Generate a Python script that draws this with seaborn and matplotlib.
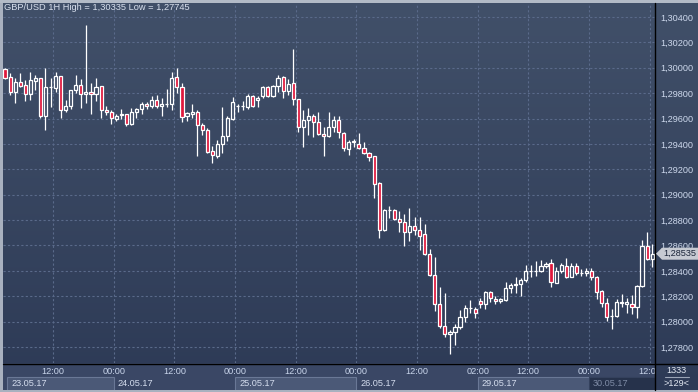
import numpy as np
import pandas as pd
import matplotlib
matplotlib.use('Agg')
import matplotlib.pyplot as plt
import matplotlib.transforms as mtransforms
from matplotlib.colors import LinearSegmentedColormap
from matplotlib.patches import Rectangle, Polygon
import seaborn as sns

# GBP/USD hourly candles
opens = [1.29990, 1.29927, 1.29809, 1.29888, 1.29864, 1.29793, 1.29896, 1.29919, 1.29620, 1.29848,
         1.29841, 1.29935, 1.29667, 1.29699, 1.29825, 1.29864, 1.29793, 1.29809, 1.29793, 1.29856,
         1.29667, 1.29651, 1.29596, 1.29628, 1.29636, 1.29557, 1.29651, 1.29675, 1.29714, 1.29699,
         1.29746, 1.29699, 1.29714, 1.29714, 1.29927, 1.29848, 1.29620, 1.29636, 1.29651, 1.29549,
         1.29510, 1.29344, 1.29305, 1.29399, 1.29462, 1.29596, 1.29699, 1.29701, 1.29691, 1.29778,
         1.29746, 1.29778, 1.29848, 1.29778, 1.29856, 1.29927, 1.29817, 1.29880, 1.29754, 1.29533,
         1.29588, 1.29620, 1.29573, 1.29478, 1.29462, 1.29533, 1.29588, 1.29486, 1.29360, 1.29415,
         1.29399, 1.29368, 1.29328, 1.29305, 1.29092, 1.28722, 1.28879, 1.28879, 1.28808, 1.28785,
         1.28706, 1.28753, 1.28722, 1.28690, 1.28532, 1.28367, 1.28138, 1.27965, 1.27902, 1.27918,
         1.27957, 1.28036, 1.28107, 1.28099, 1.28162, 1.28138, 1.28233, 1.28178, 1.28162, 1.28170,
         1.28265, 1.28288, 1.28296, 1.28328, 1.28399, 1.28401, 1.28399, 1.28438, 1.28462, 1.28304,
         1.28399, 1.28438, 1.28351, 1.28438, 1.28383, 1.28383, 1.28399, 1.28351, 1.28241, 1.28146,
         1.28044, 1.28044, 1.28146, 1.28138, 1.28138, 1.28115, 1.28280, 1.28596, 1.28493]
highs = [1.29998, 1.29959, 1.29919, 1.29959, 1.29904, 1.29967, 1.29943, 1.29919, 1.29998, 1.29919,
         1.29967, 1.29935, 1.29746, 1.29825, 1.29943, 1.29911, 1.30335, 1.29880, 1.29919, 1.29856,
         1.29699, 1.29667, 1.29636, 1.29675, 1.29636, 1.29683, 1.29683, 1.29730, 1.29730, 1.29778,
         1.29785, 1.29762, 1.29833, 1.29967, 1.29998, 1.29880, 1.29651, 1.29714, 1.29667, 1.29565,
         1.29525, 1.29384, 1.29431, 1.29691, 1.29620, 1.29770, 1.29714, 1.29738, 1.29793, 1.29785,
         1.29778, 1.29856, 1.29856, 1.29864, 1.29943, 1.29935, 1.29911, 1.30148, 1.29754, 1.29667,
         1.29683, 1.29636, 1.29651, 1.29533, 1.29651, 1.29620, 1.29620, 1.29494, 1.29431, 1.29439,
         1.29486, 1.29415, 1.29336, 1.29305, 1.29100, 1.28887, 1.28911, 1.28887, 1.28871, 1.28848,
         1.28895, 1.28824, 1.28824, 1.28769, 1.28572, 1.28509, 1.28272, 1.28225, 1.27934, 1.27981,
         1.28091, 1.28131, 1.28170, 1.28115, 1.28186, 1.28241, 1.28241, 1.28202, 1.28186, 1.28312,
         1.28304, 1.28351, 1.28343, 1.28446, 1.28446, 1.28477, 1.28485, 1.28469, 1.28493, 1.28430,
         1.28462, 1.28501, 1.28462, 1.28462, 1.28414, 1.28422, 1.28422, 1.28359, 1.28249, 1.28186,
         1.28099, 1.28178, 1.28217, 1.28186, 1.28209, 1.28288, 1.28643, 1.28706, 1.28611]
lows = [1.29911, 1.29785, 1.29722, 1.29848, 1.29738, 1.29746, 1.29825, 1.29604, 1.29510, 1.29691,
        1.29809, 1.29604, 1.29651, 1.29675, 1.29801, 1.29683, 1.29722, 1.29636, 1.29738, 1.29604,
        1.29628, 1.29557, 1.29581, 1.29596, 1.29541, 1.29549, 1.29604, 1.29636, 1.29675, 1.29683,
        1.29683, 1.29620, 1.29691, 1.29667, 1.29801, 1.29573, 1.29581, 1.29604, 1.29305, 1.29470,
        1.29328, 1.29250, 1.29289, 1.29328, 1.29423, 1.29588, 1.29651, 1.29667, 1.29675, 1.29691,
        1.29691, 1.29762, 1.29770, 1.29770, 1.29809, 1.29762, 1.29785, 1.29707, 1.29494, 1.29376,
        1.29470, 1.29454, 1.29470, 1.29305, 1.29454, 1.29494, 1.29447, 1.29344, 1.29313, 1.29376,
        1.29360, 1.29320, 1.29265, 1.28974, 1.28659, 1.28714, 1.28816, 1.28800, 1.28706, 1.28596,
        1.28635, 1.28682, 1.28564, 1.28525, 1.28359, 1.28083, 1.27949, 1.27878, 1.27745, 1.27815,
        1.27941, 1.27997, 1.28068, 1.28028, 1.28107, 1.28099, 1.28154, 1.28138, 1.28146, 1.28162,
        1.28225, 1.28225, 1.28202, 1.28312, 1.28351, 1.28359, 1.28391, 1.28422, 1.28272, 1.28304,
        1.28383, 1.28343, 1.28351, 1.28367, 1.28359, 1.28359, 1.28328, 1.28178, 1.28115, 1.28005,
        1.27941, 1.28036, 1.28115, 1.28068, 1.28060, 1.28028, 1.28272, 1.28485, 1.28430]
closes = [1.29919, 1.29809, 1.29888, 1.29856, 1.29793, 1.29904, 1.29919, 1.29620, 1.29848, 1.29850,
          1.29935, 1.29667, 1.29699, 1.29825, 1.29864, 1.29793, 1.29809, 1.29793, 1.29848, 1.29667,
          1.29651, 1.29604, 1.29620, 1.29636, 1.29557, 1.29651, 1.29675, 1.29714, 1.29699, 1.29746,
          1.29699, 1.29714, 1.29716, 1.29919, 1.29848, 1.29612, 1.29644, 1.29651, 1.29549, 1.29510,
          1.29336, 1.29313, 1.29399, 1.29462, 1.29604, 1.29730, 1.29701, 1.29699, 1.29778, 1.29699,
          1.29762, 1.29848, 1.29778, 1.29856, 1.29919, 1.29817, 1.29872, 1.29754, 1.29533, 1.29588,
          1.29620, 1.29573, 1.29478, 1.29462, 1.29533, 1.29588, 1.29494, 1.29368, 1.29415, 1.29423,
          1.29368, 1.29328, 1.29297, 1.29084, 1.28722, 1.28879, 1.28881, 1.28808, 1.28785, 1.28706,
          1.28753, 1.28722, 1.28674, 1.28532, 1.28367, 1.28138, 1.27965, 1.27902, 1.27918, 1.27957,
          1.28036, 1.28107, 1.28109, 1.28068, 1.28138, 1.28233, 1.28186, 1.28162, 1.28178, 1.28265,
          1.28288, 1.28296, 1.28328, 1.28399, 1.28401, 1.28399, 1.28438, 1.28454, 1.28312, 1.28399,
          1.28446, 1.28351, 1.28438, 1.28383, 1.28385, 1.28399, 1.28351, 1.28233, 1.28146, 1.28036,
          1.28046, 1.28154, 1.28154, 1.28154, 1.28115, 1.28280, 1.28596, 1.28493, 1.28535]

# trading hours shown (weekend gap between Friday and Sunday night)
times = pd.date_range('2017-05-23 02:00', periods=91, freq='h').append(
    pd.date_range('2017-05-28 23:00', periods=38, freq='h'))

tick_times = ['2017-05-23 12:00', '2017-05-24 00:00', '2017-05-24 12:00', '2017-05-25 00:00',
              '2017-05-25 12:00', '2017-05-26 00:00', '2017-05-26 12:00', '2017-05-29 02:00',
              '2017-05-29 12:00', '2017-05-30 00:00', '2017-05-30 12:00']
date_starts = ['2017-05-23 02:00', '2017-05-24 00:00', '2017-05-25 00:00',
               '2017-05-26 00:00', '2017-05-29 02:00', '2017-05-30 00:00']
price_ticks = [1.278, 1.280, 1.282, 1.284, 1.286, 1.288, 1.290, 1.292, 1.294,
               1.296, 1.298, 1.300, 1.302, 1.304]

sns.set_style('dark')
plt.rcParams['font.family'] = ['Liberation Sans', 'DejaVu Sans']

W, H = 698, 392
fig = plt.figure(figsize=(W / 100, H / 100), dpi=100)

def fx(px):
    return px / W

def fy(py):
    return 1 - py / H

# background gradient
bg = fig.add_axes([0, 0, 1, 1])
cmap = LinearSegmentedColormap.from_list('bg', ['#2d3a56', '#415069'])
bg.imshow(np.linspace(0, 1, 256).reshape(-1, 1)[::-1], cmap=cmap, aspect='auto',
          extent=[0, 1, 0, 1])
bg.axis('off')

# main price panel
ax = fig.add_axes([fx(3), fy(363), fx(652), 360 / H])
ax.set_facecolor('none')
x = np.arange(len(opens))
o, h, l, c = map(np.array, (opens, highs, lows, closes))
up = c >= o
top = np.maximum(o, c)
bot = np.minimum(o, c)
ax.vlines(x, top, h, color='white', lw=0.9, zorder=3)
ax.vlines(x, l, bot, color='white', lw=0.9, zorder=3)
ax.bar(x[up], (c - o)[up], bottom=o[up], width=0.62, facecolor='none',
       edgecolor='white', lw=0.9, zorder=4)
ax.bar(x[~up], (o - c)[~up], bottom=c[~up], width=0.62, facecolor='#e0183c',
       edgecolor='white', lw=0.9, zorder=4)

ax.set_xlim(-0.4, 128.56)
ax.set_ylim(1.27674, 1.30510)

tick_pos = [times.get_loc(pd.Timestamp(t)) - 0.5 for t in tick_times]
tick_lbl = [pd.Timestamp(t).strftime('%H:%M') for t in tick_times]
grid_kw = dict(color='#5a6a8a', lw=0.8, ls=(0, (2, 2)), zorder=1)
for p in tick_pos:
    ax.axvline(p, **grid_kw)
for v in price_ticks:
    ax.axhline(v, **grid_kw)

ax.set_xticks([])
ax.yaxis.tick_right()
ax.set_yticks(price_ticks)
ax.set_yticklabels([f'{v:.5f}'.replace('.', ',') for v in price_ticks])
ax.tick_params(axis='y', length=0, pad=3.5, labelsize=6.6, labelcolor='#cdd8ec')
for s in ax.spines.values():
    s.set_visible(False)

# time strip
tax = fig.add_axes([fx(3), 0, fx(652), 29 / H])
tax.set_facecolor('#3a4765')
tax.set_xlim(ax.get_xlim())
tax.set_ylim(0, 29)
tax.set_xticks([])
tax.set_yticks([])
for s in tax.spines.values():
    s.set_visible(False)
for p, t in zip(tick_pos, tick_lbl):
    tax.text(p, 21, t, ha='center', va='center', fontsize=6.6, color='#c8d4ea', clip_on=True)

date_pos = [max(times.get_loc(pd.Timestamp(t)) - 0.5, 0.4) for t in date_starts]
date_end = date_pos[1:] + [128.56]
for i, (a, b, t) in enumerate(zip(date_pos, date_end, date_starts)):
    lbl = pd.Timestamp(t).strftime('%d.%m.%y')
    if i == len(date_pos) - 1:
        tax.add_patch(Rectangle((a, 0), b - a, 15, fc='#26324b', ec='#34415d', lw=0.8))
        col = '#7e8ba5'
    elif i % 2 == 0:
        tax.add_patch(Rectangle((a, 0), b - a, 15, fc='#4b5977', ec='#6a7896', lw=0.8))
        col = '#d4ddee'
    else:
        col = '#d4ddee'
    tax.text(a + 0.8, 8.5, lbl, ha='left', va='center', fontsize=6.6, color=col)

# frame lines
fig.add_artist(plt.Line2D([fx(655), fx(655)], [fy(3), fy(390)], color='black', lw=1.0))
fig.add_artist(plt.Line2D([fx(3), 1], [fy(363.5), fy(363.5)], color='black', lw=1.0))
fig.add_artist(Rectangle((0, 0), fx(2.5), 1, fc='#a9b1bf', ec='none', transform=fig.transFigure))
fig.add_artist(Rectangle((0, fy(2.5)), 1, fx(698), fc='#b3bbc7', ec='none', transform=fig.transFigure))
fig.add_artist(Rectangle((0, 0), 1, 2 / H, fc='#a9b1bf', ec='none', transform=fig.transFigure))

# last price marker
last = closes[-1]
bt = mtransforms.blended_transform_factory(fig.transFigure, ax.transData)
dy = 6 * (ax.get_ylim()[1] - ax.get_ylim()[0]) / 360
ax_marker = Polygon([[fx(656), last], [fx(662), last + dy], [1, last + dy],
                     [1, last - dy], [fx(662), last - dy]], closed=True,
                    fc='#c6cad2', ec='none', transform=bt, zorder=10)
fig.add_artist(ax_marker)
fig.text(fx(663), 0, f'{last:.5f}'.replace('.', ','), transform=bt, fontsize=6.6,
         color='#1b2539', ha='left', va='center', zorder=11).set_y(last)

# corner counters
fig.text(fx(676), fy(370.5), '1333', ha='center', va='center', fontsize=6.6, color='#e2e8f2')
fig.text(fx(676), fy(383), '>129<', ha='center', va='center', fontsize=6.6, color='#e2e8f2')
fig.add_artist(plt.Line2D([fx(665), fx(689)], [fy(377), fy(377)], color='#9aa4b6', lw=0.8))

# header
title = (f'GBP/USD 1H High = {max(highs):.5f} Low = {min(lows):.5f}').replace('.', ',')
fig.text(fx(4), fy(7.5), title, ha='left', va='center', fontsize=6.7, color='#d8e0ee')

fig.savefig('out.png', dpi=100)
